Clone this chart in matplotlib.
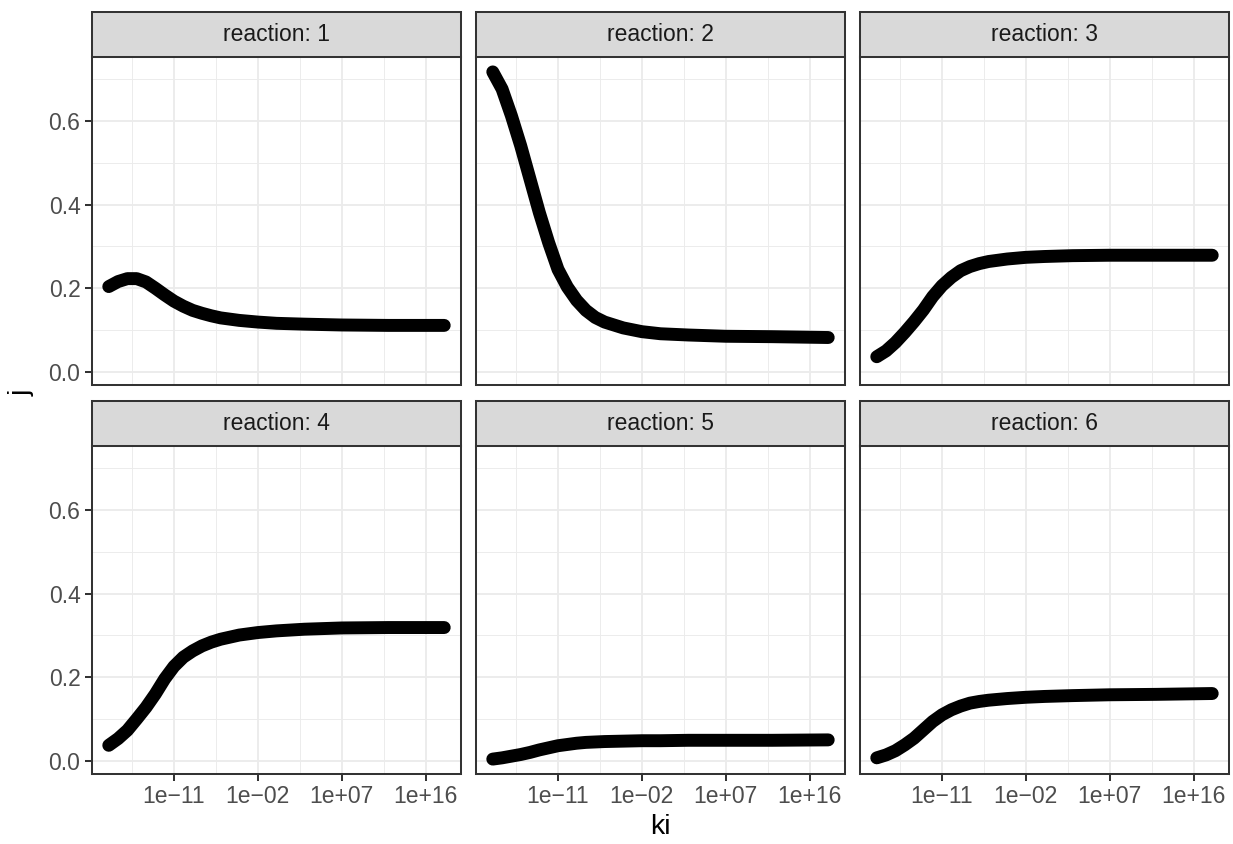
import numpy as np
import matplotlib
matplotlib.use("Agg")
import matplotlib.pyplot as plt
from matplotlib.ticker import NullFormatter

plt.rcParams['font.family'] = ['Liberation Sans', 'DejaVu Sans']

# log10(ki) positions where the curves were read
ki_exp = [-18, -17, -16, -15, -14, -13, -12, -11, -10, -9, -8, -7, -6, -4, -2, 0, 3, 7, 12, 18]

j_r1 = [0.204, 0.216, 0.223, 0.223, 0.215, 0.200, 0.184, 0.169, 0.157, 0.147,
        0.140, 0.134, 0.129, 0.123, 0.119, 0.116, 0.114, 0.112, 0.111, 0.111]
j_r2 = [0.718, 0.677, 0.613, 0.541, 0.461, 0.381, 0.309, 0.245, 0.203, 0.171,
        0.147, 0.130, 0.119, 0.105, 0.096, 0.091, 0.088, 0.085, 0.084, 0.082]
j_r3 = [0.036, 0.050, 0.070, 0.094, 0.120, 0.148, 0.180, 0.206, 0.226, 0.242,
        0.252, 0.259, 0.264, 0.270, 0.274, 0.276, 0.278, 0.279, 0.279, 0.279]
j_r4 = [0.037, 0.053, 0.073, 0.100, 0.128, 0.160, 0.196, 0.226, 0.248, 0.263,
        0.275, 0.284, 0.291, 0.301, 0.307, 0.311, 0.315, 0.318, 0.319, 0.319]
j_r5 = [0.004, 0.007, 0.011, 0.015, 0.020, 0.026, 0.031, 0.036, 0.039, 0.042,
        0.044, 0.045, 0.046, 0.047, 0.048, 0.048, 0.049, 0.049, 0.049, 0.050]
j_r6 = [0.007, 0.014, 0.024, 0.038, 0.054, 0.074, 0.094, 0.110, 0.122, 0.131,
        0.138, 0.142, 0.145, 0.149, 0.152, 0.154, 0.156, 0.158, 0.159, 0.161]

reactions = [1, 2, 3, 4, 5, 6]
series = [j_r1, j_r2, j_r3, j_r4, j_r5, j_r6]

x_major_exp = [-11, -2, 7, 16]
x_minor_exp = [-15.5, -6.5, 2.5, 11.5]
x_labels = ["1e\u221211", "1e\u221202", "1e+07", "1e+16"]
y_major = [0.0, 0.2, 0.4, 0.6]
y_minor = [0.1, 0.3, 0.5, 0.7]
y_labels = ["0.0", "0.2", "0.4", "0.6"]

W, H = 1233, 844


def px_rect(left, top, width, height):
    return [left / W, 1 - (top + height) / H, width / W, height / H]


fig = plt.figure(figsize=(W / 100, H / 100), dpi=100)

col_left = [92, 476, 860]
panel_top = [57, 446]
strip_top = [12, 401]
pw, ph, sh = 369, 328, 45

# ggplot style 5% expansion of the ranges
xlo, xhi = min(ki_exp), max(ki_exp)
xpad = 0.05 * (xhi - xlo)
all_j = np.concatenate([np.array(s) for s in series])
ylo, yhi = all_j.min(), all_j.max()
ypad = 0.05 * (yhi - ylo)

border = "#333333"

for i, (rx, jv) in enumerate(zip(reactions, series)):
    row, col = i // 3, i % 3
    ax = fig.add_axes(px_rect(col_left[col], panel_top[row], pw, ph))
    ax.set_xscale("log")
    ax.plot(10.0 ** np.array(ki_exp), jv, color="black", lw=9.3,
            solid_capstyle="round", solid_joinstyle="round", zorder=3)
    ax.set_xlim(10.0 ** (xlo - xpad), 10.0 ** (xhi + xpad))
    ax.set_ylim(ylo - ypad, yhi + ypad)

    ax.set_xticks(10.0 ** np.array(x_major_exp))
    ax.set_xticks(10.0 ** np.array(x_minor_exp), minor=True)
    ax.xaxis.set_minor_formatter(NullFormatter())
    ax.set_yticks(y_major)
    ax.set_yticks(y_minor, minor=True)

    ax.grid(which="major", color="#EBEBEB", lw=1.3)
    ax.grid(which="minor", color="#EBEBEB", lw=0.65)
    ax.set_axisbelow(True)
    for s in ax.spines.values():
        s.set_color(border)
        s.set_linewidth(1.45)

    ax.tick_params(which="minor", length=0)
    ax.tick_params(which="major", length=4.8, width=1.45, color=border,
                   labelsize=16.5, labelcolor="#4D4D4D")
    ax.tick_params(axis="x", pad=3)
    ax.tick_params(axis="y", pad=3.5)

    if row == 1:
        ax.set_xticklabels(x_labels)
    else:
        ax.tick_params(axis="x", which="major", length=0, labelbottom=False)
    if col == 0:
        ax.set_yticklabels(y_labels)
    else:
        ax.tick_params(axis="y", which="major", length=0, labelleft=False)

    # facet strip
    sax = fig.add_axes(px_rect(col_left[col], strip_top[row], pw, sh))
    sax.set_facecolor("#D9D9D9")
    sax.set_xticks([])
    sax.set_yticks([])
    for s in sax.spines.values():
        s.set_color(border)
        s.set_linewidth(1.45)
    sax.text(0.5, 0.5, "reaction: {}".format(rx), ha="center", va="center",
             fontsize=16.5, color="#1A1A1A", transform=sax.transAxes)

fig.text(660.5 / W, 1 - 827 / H, "ki", ha="center", va="center", fontsize=20.5)
fig.text(22 / W, 1 - 393 / H, "j", ha="center", va="center", fontsize=20.5,
         rotation=90)

fig.savefig("out.png", dpi=100)
